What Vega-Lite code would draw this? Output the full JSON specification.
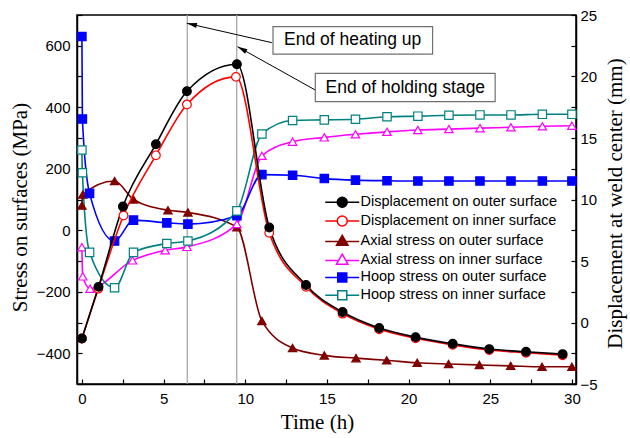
{
  "$schema": "https://vega.github.io/schema/vega-lite/v6.json",
  "width": 499,
  "height": 369,
  "autosize": {"type": "none"},
  "padding": {"left": 77, "top": 15, "right": 54, "bottom": 54},
  "background": "white",
  "config": {
    "view": {"stroke": "black", "strokeWidth": 1.5},
    "axis": {
      "grid": false,
      "domainColor": "black",
      "domainWidth": 1.5,
      "tickColor": "black",
      "tickWidth": 1.2,
      "tickSize": -5,
      "labelFont": "Liberation Sans",
      "labelFontSize": 15,
      "labelColor": "black",
      "labelOverlap": false,
      "titleFont": "Liberation Serif",
      "titleFontSize": 21,
      "titleFontWeight": "normal",
      "titleColor": "black"
    }
  },
  "datasets": {
    "disp": [
      {"series": "Displacement on inner surface", "t": 0, "d": -1.3},
      {"series": "Displacement on inner surface", "t": 1.0, "d": 2.75},
      {"series": "Displacement on inner surface", "t": 2.55, "d": 8.7},
      {"series": "Displacement on inner surface", "t": 4.53, "d": 13.59},
      {"series": "Displacement on inner surface", "t": 6.43, "d": 17.72},
      {"series": "Displacement on inner surface", "t": 9.43, "d": 19.97},
      {"series": "Displacement on inner surface", "t": 11.47, "d": 7.29},
      {"series": "Displacement on inner surface", "t": 13.72, "d": 2.9},
      {"series": "Displacement on inner surface", "t": 15.96, "d": 0.72},
      {"series": "Displacement on inner surface", "t": 18.2, "d": -0.55},
      {"series": "Displacement on inner surface", "t": 20.43, "d": -1.28},
      {"series": "Displacement on inner surface", "t": 22.7, "d": -1.82},
      {"series": "Displacement on inner surface", "t": 24.94, "d": -2.24},
      {"series": "Displacement on inner surface", "t": 27.19, "d": -2.46},
      {"series": "Displacement on inner surface", "t": 29.43, "d": -2.66},
      {"series": "Displacement on outer surface", "t": 0, "d": -1.3},
      {"series": "Displacement on outer surface", "t": 1.02, "d": 2.9},
      {"series": "Displacement on outer surface", "t": 2.51, "d": 9.43},
      {"series": "Displacement on outer surface", "t": 4.53, "d": 14.49},
      {"series": "Displacement on outer surface", "t": 6.43, "d": 18.8},
      {"series": "Displacement on outer surface", "t": 9.49, "d": 21.0},
      {"series": "Displacement on outer surface", "t": 11.47, "d": 7.72},
      {"series": "Displacement on outer surface", "t": 13.72, "d": 3.05},
      {"series": "Displacement on outer surface", "t": 15.96, "d": 0.85},
      {"series": "Displacement on outer surface", "t": 18.2, "d": -0.45},
      {"series": "Displacement on outer surface", "t": 20.43, "d": -1.19},
      {"series": "Displacement on outer surface", "t": 22.7, "d": -1.73},
      {"series": "Displacement on outer surface", "t": 24.94, "d": -2.16},
      {"series": "Displacement on outer surface", "t": 27.19, "d": -2.38},
      {"series": "Displacement on outer surface", "t": 29.43, "d": -2.57}
    ],
    "stress": [
      {"series": "Axial stress on outer surface", "t": 0, "v": 80},
      {"series": "Axial stress on outer surface", "t": 0.05, "v": 116},
      {"series": "Axial stress on outer surface", "t": 2.0, "v": 160},
      {"series": "Axial stress on outer surface", "t": 3.16, "v": 100},
      {"series": "Axial stress on outer surface", "t": 5.27, "v": 65},
      {"series": "Axial stress on outer surface", "t": 6.49, "v": 58},
      {"series": "Axial stress on outer surface", "t": 9.49, "v": 10},
      {"series": "Axial stress on outer surface", "t": 11.02, "v": -295},
      {"series": "Axial stress on outer surface", "t": 12.9, "v": -383},
      {"series": "Axial stress on outer surface", "t": 14.84, "v": -407},
      {"series": "Axial stress on outer surface", "t": 16.78, "v": -416},
      {"series": "Axial stress on outer surface", "t": 18.66, "v": -423},
      {"series": "Axial stress on outer surface", "t": 20.53, "v": -431},
      {"series": "Axial stress on outer surface", "t": 22.45, "v": -435},
      {"series": "Axial stress on outer surface", "t": 24.33, "v": -438},
      {"series": "Axial stress on outer surface", "t": 26.25, "v": -441},
      {"series": "Axial stress on outer surface", "t": 28.17, "v": -444},
      {"series": "Axial stress on outer surface", "t": 30.0, "v": -444},
      {"series": "Axial stress on inner surface", "t": 0, "v": -55},
      {"series": "Axial stress on inner surface", "t": 0.05, "v": -150},
      {"series": "Axial stress on inner surface", "t": 0.5, "v": -190},
      {"series": "Axial stress on inner surface", "t": 3.1, "v": -98},
      {"series": "Axial stress on inner surface", "t": 5.1, "v": -65},
      {"series": "Axial stress on inner surface", "t": 6.43, "v": -54},
      {"series": "Axial stress on inner surface", "t": 9.49, "v": 20},
      {"series": "Axial stress on inner surface", "t": 11.02, "v": 242},
      {"series": "Axial stress on inner surface", "t": 12.9, "v": 288},
      {"series": "Axial stress on inner surface", "t": 14.84, "v": 302},
      {"series": "Axial stress on inner surface", "t": 16.75, "v": 312},
      {"series": "Axial stress on inner surface", "t": 18.68, "v": 320},
      {"series": "Axial stress on inner surface", "t": 20.57, "v": 326},
      {"series": "Axial stress on inner surface", "t": 22.47, "v": 329},
      {"series": "Axial stress on inner surface", "t": 24.37, "v": 332},
      {"series": "Axial stress on inner surface", "t": 26.27, "v": 335},
      {"series": "Axial stress on inner surface", "t": 28.19, "v": 338},
      {"series": "Axial stress on inner surface", "t": 30.0, "v": 340},
      {"series": "Hoop stress on outer surface", "t": 0, "v": 630},
      {"series": "Hoop stress on outer surface", "t": 0.03, "v": 362},
      {"series": "Hoop stress on outer surface", "t": 0.47, "v": 120},
      {"series": "Hoop stress on outer surface", "t": 2.0, "v": -35},
      {"series": "Hoop stress on outer surface", "t": 3.16, "v": 33},
      {"series": "Hoop stress on outer surface", "t": 5.2, "v": 24},
      {"series": "Hoop stress on outer surface", "t": 6.49, "v": 20},
      {"series": "Hoop stress on outer surface", "t": 9.49, "v": 47},
      {"series": "Hoop stress on outer surface", "t": 11.02, "v": 181},
      {"series": "Hoop stress on outer surface", "t": 12.9, "v": 179},
      {"series": "Hoop stress on outer surface", "t": 14.84, "v": 168},
      {"series": "Hoop stress on outer surface", "t": 16.75, "v": 163},
      {"series": "Hoop stress on outer surface", "t": 18.68, "v": 161},
      {"series": "Hoop stress on outer surface", "t": 20.57, "v": 160},
      {"series": "Hoop stress on outer surface", "t": 22.47, "v": 160},
      {"series": "Hoop stress on outer surface", "t": 24.37, "v": 160},
      {"series": "Hoop stress on outer surface", "t": 26.27, "v": 160},
      {"series": "Hoop stress on outer surface", "t": 28.19, "v": 160},
      {"series": "Hoop stress on outer surface", "t": 30.0, "v": 160},
      {"series": "Hoop stress on inner surface", "t": 0, "v": 261},
      {"series": "Hoop stress on inner surface", "t": 0.03, "v": 187},
      {"series": "Hoop stress on inner surface", "t": 0.47, "v": -72},
      {"series": "Hoop stress on inner surface", "t": 2.0, "v": -187},
      {"series": "Hoop stress on inner surface", "t": 3.16, "v": -72},
      {"series": "Hoop stress on inner surface", "t": 5.2, "v": -43},
      {"series": "Hoop stress on inner surface", "t": 6.49, "v": -35},
      {"series": "Hoop stress on inner surface", "t": 9.49, "v": 63},
      {"series": "Hoop stress on inner surface", "t": 11.02, "v": 313},
      {"series": "Hoop stress on inner surface", "t": 12.9, "v": 357},
      {"series": "Hoop stress on inner surface", "t": 14.84, "v": 359},
      {"series": "Hoop stress on inner surface", "t": 16.75, "v": 361},
      {"series": "Hoop stress on inner surface", "t": 18.68, "v": 369},
      {"series": "Hoop stress on inner surface", "t": 20.57, "v": 371},
      {"series": "Hoop stress on inner surface", "t": 22.47, "v": 374},
      {"series": "Hoop stress on inner surface", "t": 24.37, "v": 375},
      {"series": "Hoop stress on inner surface", "t": 26.27, "v": 375},
      {"series": "Hoop stress on inner surface", "t": 28.19, "v": 377},
      {"series": "Hoop stress on inner surface", "t": 30.0, "v": 377}
    ],
    "events": [
      {"event": "End of heating up", "t": 6.45},
      {"event": "End of holding stage", "t": 9.48}
    ],
    "notes": [
      {"event": "End of heating up", "label_t": 16.58, "label_v": 618, "box_t1": 11.7, "box_t2": 21.47, "box_v1": 662, "box_v2": 573, "tail_t": 11.63, "tail_v": 610, "head_t": 6.43, "head_v": 673},
      {"event": "End of holding stage", "label_t": 19.8, "label_v": 464, "box_t1": 14.29, "box_t2": 25.3, "box_v1": 510, "box_v2": 418, "tail_t": 14.29, "tail_v": 456, "head_t": 9.53, "head_v": 597}
    ]
  },
  "resolve": {"scale": {"y": "independent", "stroke": "independent", "fill": "independent", "shape": "independent"}},
  "layer": [
    {
      "layer": [
        {
          "data": {"name": "events"},
          "mark": {"type": "rule", "color": "#A0A0A0", "strokeWidth": 1.2},
          "encoding": {
            "x": {"field": "t", "type": "quantitative", "scale": {"domain": [-0.3, 30.25], "nice": false, "zero": false},
              "axis": {"title": "Time (h)", "values": [0, 2.5, 5, 7.5, 10, 12.5, 15, 17.5, 20, 22.5, 25, 27.5, 30], "labelExpr": "datum.value % 5 === 0 ? datum.label : ''", "labelPadding": 12, "titleX": 240, "titleY": 38, "titleBaseline": "middle", "titleAlign": "center"}}
          }
        },
        {
          "data": {"name": "stress"},
          "mark": {"type": "line", "interpolate": "monotone", "strokeWidth": 1.6},
          "encoding": {
            "x": {"field": "t", "type": "quantitative", "scale": {"domain": [-0.3, 30.25], "nice": false, "zero": false},
              "axis": {"title": "Time (h)", "values": [0, 2.5, 5, 7.5, 10, 12.5, 15, 17.5, 20, 22.5, 25, 27.5, 30], "labelExpr": "datum.value % 5 === 0 ? datum.label : ''", "labelPadding": 12, "titleX": 240, "titleY": 38, "titleBaseline": "middle", "titleAlign": "center"}},
            "y": {"field": "v", "type": "quantitative", "scale": {"domain": [-500, 700], "nice": false, "zero": false},
              "axis": {"orient": "left", "title": "Stress on surfaces (MPa)", "values": [-500, -400, -300, -200, -100, 0, 100, 200, 300, 400, 500, 600, 700], "labelExpr": "datum.value % 200 === 0 ? datum.label : ''", "labelPadding": 12, "titleX": -57, "titleY": 192, "titleAngle": 270, "titleBaseline": "middle", "titleAlign": "center"}},
            "stroke": {"field": "series", "type": "nominal", "legend": null,
              "scale": {"domain": ["Axial stress on outer surface", "Axial stress on inner surface", "Hoop stress on outer surface", "Hoop stress on inner surface"],
                "range": ["#800000", "#FF00FF", "#0000FF", "#008080"]}}
          }
        },
        {
          "data": {"name": "stress"},
          "mark": {"type": "point", "size": 70, "strokeWidth": 1.2, "opacity": 1},
          "encoding": {
            "x": {"field": "t", "type": "quantitative", "scale": {"domain": [-0.3, 30.25], "nice": false, "zero": false},
              "axis": {"title": "Time (h)", "values": [0, 2.5, 5, 7.5, 10, 12.5, 15, 17.5, 20, 22.5, 25, 27.5, 30], "labelExpr": "datum.value % 5 === 0 ? datum.label : ''", "labelPadding": 12, "titleX": 240, "titleY": 38, "titleBaseline": "middle", "titleAlign": "center"}},
            "y": {"field": "v", "type": "quantitative", "scale": {"domain": [-500, 700], "nice": false, "zero": false},
              "axis": {"orient": "left", "title": "Stress on surfaces (MPa)", "values": [-500, -400, -300, -200, -100, 0, 100, 200, 300, 400, 500, 600, 700], "labelExpr": "datum.value % 200 === 0 ? datum.label : ''", "labelPadding": 12, "titleX": -57, "titleY": 192, "titleAngle": 270, "titleBaseline": "middle", "titleAlign": "center"}},
            "stroke": {"field": "series", "type": "nominal", "legend": null,
              "scale": {"domain": ["Axial stress on outer surface", "Axial stress on inner surface", "Hoop stress on outer surface", "Hoop stress on inner surface"],
                "range": ["#800000", "#FF00FF", "#0000FF", "#008080"]}},
            "fill": {"field": "series", "type": "nominal", "legend": null,
              "scale": {"domain": ["Axial stress on outer surface", "Axial stress on inner surface", "Hoop stress on outer surface", "Hoop stress on inner surface"],
                "range": ["#800000", "#FFFFFF", "#0000FF", "#FFFFFF"]}},
            "shape": {"field": "series", "type": "nominal", "legend": null,
              "scale": {"domain": ["Axial stress on outer surface", "Axial stress on inner surface", "Hoop stress on outer surface", "Hoop stress on inner surface"],
                "range": ["triangle-up", "triangle-up", "square", "square"]}}
          }
        },
        {
          "data": {"name": "notes"},
          "mark": {"type": "rule", "color": "black", "strokeWidth": 1},
          "encoding": {
            "x": {"field": "tail_t", "type": "quantitative", "scale": {"domain": [-0.3, 30.25], "nice": false, "zero": false},
              "axis": {"title": "Time (h)", "values": [0, 2.5, 5, 7.5, 10, 12.5, 15, 17.5, 20, 22.5, 25, 27.5, 30], "labelExpr": "datum.value % 5 === 0 ? datum.label : ''", "labelPadding": 12, "titleX": 240, "titleY": 38, "titleBaseline": "middle", "titleAlign": "center"}},
            "y": {"field": "tail_v", "type": "quantitative", "scale": {"domain": [-500, 700], "nice": false, "zero": false},
              "axis": {"orient": "left", "title": "Stress on surfaces (MPa)", "values": [-500, -400, -300, -200, -100, 0, 100, 200, 300, 400, 500, 600, 700], "labelExpr": "datum.value % 200 === 0 ? datum.label : ''", "labelPadding": 12, "titleX": -57, "titleY": 192, "titleAngle": 270, "titleBaseline": "middle", "titleAlign": "center"}},
            "x2": {"field": "head_t"},
            "y2": {"field": "head_v"}
          }
        },
        {
          "data": {"name": "notes"},
          "transform": [{"filter": "datum.event === 'End of heating up'"}],
          "mark": {"type": "point", "shape": "M0,0L-1,4L1,4Z", "size": 25, "filled": true, "color": "black", "opacity": 1, "angle": 283},
          "encoding": {
            "x": {"field": "head_t", "type": "quantitative", "scale": {"domain": [-0.3, 30.25], "nice": false, "zero": false},
              "axis": {"title": "Time (h)", "values": [0, 2.5, 5, 7.5, 10, 12.5, 15, 17.5, 20, 22.5, 25, 27.5, 30], "labelExpr": "datum.value % 5 === 0 ? datum.label : ''", "labelPadding": 12, "titleX": 240, "titleY": 38, "titleBaseline": "middle", "titleAlign": "center"}},
            "y": {"field": "head_v", "type": "quantitative", "scale": {"domain": [-500, 700], "nice": false, "zero": false},
              "axis": {"orient": "left", "title": "Stress on surfaces (MPa)", "values": [-500, -400, -300, -200, -100, 0, 100, 200, 300, 400, 500, 600, 700], "labelExpr": "datum.value % 200 === 0 ? datum.label : ''", "labelPadding": 12, "titleX": -57, "titleY": 192, "titleAngle": 270, "titleBaseline": "middle", "titleAlign": "center"}}
          }
        },
        {
          "data": {"name": "notes"},
          "transform": [{"filter": "datum.event === 'End of holding stage'"}],
          "mark": {"type": "point", "shape": "M0,0L-1,4L1,4Z", "size": 25, "filled": true, "color": "black", "opacity": 1, "angle": 299},
          "encoding": {
            "x": {"field": "head_t", "type": "quantitative", "scale": {"domain": [-0.3, 30.25], "nice": false, "zero": false},
              "axis": {"title": "Time (h)", "values": [0, 2.5, 5, 7.5, 10, 12.5, 15, 17.5, 20, 22.5, 25, 27.5, 30], "labelExpr": "datum.value % 5 === 0 ? datum.label : ''", "labelPadding": 12, "titleX": 240, "titleY": 38, "titleBaseline": "middle", "titleAlign": "center"}},
            "y": {"field": "head_v", "type": "quantitative", "scale": {"domain": [-500, 700], "nice": false, "zero": false},
              "axis": {"orient": "left", "title": "Stress on surfaces (MPa)", "values": [-500, -400, -300, -200, -100, 0, 100, 200, 300, 400, 500, 600, 700], "labelExpr": "datum.value % 200 === 0 ? datum.label : ''", "labelPadding": 12, "titleX": -57, "titleY": 192, "titleAngle": 270, "titleBaseline": "middle", "titleAlign": "center"}}
          }
        },
        {
          "data": {"name": "notes"},
          "mark": {"type": "rect", "fill": "white", "stroke": "#707070", "strokeWidth": 1.2},
          "encoding": {
            "x": {"field": "box_t1", "type": "quantitative", "scale": {"domain": [-0.3, 30.25], "nice": false, "zero": false},
              "axis": {"title": "Time (h)", "values": [0, 2.5, 5, 7.5, 10, 12.5, 15, 17.5, 20, 22.5, 25, 27.5, 30], "labelExpr": "datum.value % 5 === 0 ? datum.label : ''", "labelPadding": 12, "titleX": 240, "titleY": 38, "titleBaseline": "middle", "titleAlign": "center"}},
            "x2": {"field": "box_t2"},
            "y": {"field": "box_v1", "type": "quantitative", "scale": {"domain": [-500, 700], "nice": false, "zero": false},
              "axis": {"orient": "left", "title": "Stress on surfaces (MPa)", "values": [-500, -400, -300, -200, -100, 0, 100, 200, 300, 400, 500, 600, 700], "labelExpr": "datum.value % 200 === 0 ? datum.label : ''", "labelPadding": 12, "titleX": -57, "titleY": 192, "titleAngle": 270, "titleBaseline": "middle", "titleAlign": "center"}},
            "y2": {"field": "box_v2"}
          }
        },
        {
          "data": {"name": "notes"},
          "mark": {"type": "text", "font": "Liberation Sans", "fontSize": 17.5, "color": "black", "align": "center", "baseline": "middle"},
          "encoding": {
            "x": {"field": "label_t", "type": "quantitative", "scale": {"domain": [-0.3, 30.25], "nice": false, "zero": false},
              "axis": {"title": "Time (h)", "values": [0, 2.5, 5, 7.5, 10, 12.5, 15, 17.5, 20, 22.5, 25, 27.5, 30], "labelExpr": "datum.value % 5 === 0 ? datum.label : ''", "labelPadding": 12, "titleX": 240, "titleY": 38, "titleBaseline": "middle", "titleAlign": "center"}},
            "y": {"field": "label_v", "type": "quantitative", "scale": {"domain": [-500, 700], "nice": false, "zero": false},
              "axis": {"orient": "left", "title": "Stress on surfaces (MPa)", "values": [-500, -400, -300, -200, -100, 0, 100, 200, 300, 400, 500, 600, 700], "labelExpr": "datum.value % 200 === 0 ? datum.label : ''", "labelPadding": 12, "titleX": -57, "titleY": 192, "titleAngle": 270, "titleBaseline": "middle", "titleAlign": "center"}},
            "text": {"field": "event"}
          }
        }
      ]
    },
    {
      "data": {"name": "disp"},
      "layer": [
        {
          "mark": {"type": "line", "interpolate": "monotone", "strokeWidth": 1.6},
          "encoding": {
            "x": {"field": "t", "type": "quantitative", "scale": {"domain": [-0.3, 30.25], "nice": false, "zero": false},
              "axis": {"title": "Time (h)", "values": [0, 2.5, 5, 7.5, 10, 12.5, 15, 17.5, 20, 22.5, 25, 27.5, 30], "labelExpr": "datum.value % 5 === 0 ? datum.label : ''", "labelPadding": 12, "titleX": 240, "titleY": 38, "titleBaseline": "middle", "titleAlign": "center"}},
            "y": {"field": "d", "type": "quantitative", "scale": {"domain": [-5, 25], "nice": false, "zero": false},
              "axis": {"orient": "right", "title": "Displacement at weld center (mm)", "values": [-5, -2.5, 0, 2.5, 5, 7.5, 10, 12.5, 15, 17.5, 20, 22.5, 25], "labelExpr": "datum.value % 5 === 0 ? datum.label : ''", "labelPadding": 9, "titleX": 39, "titleY": 188, "titleAngle": 270, "titleBaseline": "middle", "titleAlign": "center"}},
            "stroke": {"field": "series", "type": "nominal", "legend": null,
              "scale": {"domain": ["Displacement on outer surface", "Displacement on inner surface"],
                "range": ["#000000", "#FF0000"]}},
            "order": {"field": "series", "sort": "descending"}
          }
        },
        {
          "mark": {"type": "point", "size": 75, "strokeWidth": 1.2, "opacity": 1},
          "encoding": {
            "x": {"field": "t", "type": "quantitative", "scale": {"domain": [-0.3, 30.25], "nice": false, "zero": false},
              "axis": {"title": "Time (h)", "values": [0, 2.5, 5, 7.5, 10, 12.5, 15, 17.5, 20, 22.5, 25, 27.5, 30], "labelExpr": "datum.value % 5 === 0 ? datum.label : ''", "labelPadding": 12, "titleX": 240, "titleY": 38, "titleBaseline": "middle", "titleAlign": "center"}},
            "y": {"field": "d", "type": "quantitative", "scale": {"domain": [-5, 25], "nice": false, "zero": false},
              "axis": {"orient": "right", "title": "Displacement at weld center (mm)", "values": [-5, -2.5, 0, 2.5, 5, 7.5, 10, 12.5, 15, 17.5, 20, 22.5, 25], "labelExpr": "datum.value % 5 === 0 ? datum.label : ''", "labelPadding": 9, "titleX": 39, "titleY": 188, "titleAngle": 270, "titleBaseline": "middle", "titleAlign": "center"}},
            "stroke": {"field": "series", "type": "nominal", "legend": null,
              "scale": {"domain": ["Displacement on outer surface", "Displacement on inner surface"],
                "range": ["#000000", "#FF0000"]}},
            "fill": {"field": "series", "type": "nominal", "legend": null,
              "scale": {"domain": ["Displacement on outer surface", "Displacement on inner surface"],
                "range": ["#000000", "#FFFFFF"]}},
            "shape": {"field": "series", "type": "nominal", "legend": null,
              "scale": {"domain": ["Displacement on outer surface", "Displacement on inner surface"],
                "range": ["circle", "circle"]}}
          }
        }
      ]
    },
    {
      "data": {"values": []},
      "mark": {"type": "point", "filled": true, "opacity": 1},
      "encoding": {
        "stroke": {"field": "series", "type": "nominal",
          "scale": {"domain": ["Displacement on outer surface", "Displacement on inner surface", "Axial stress on outer surface", "Axial stress on inner surface", "Hoop stress on outer surface", "Hoop stress on inner surface"],
            "range": ["#000000", "#FF0000", "#800000", "#FF00FF", "#0000FF", "#008080"]},
          "legend": {"title": null, "orient": "none", "legendX": 258, "legendY": 180, "padding": 0, "direction": "vertical", "labelFont": "Liberation Sans", "labelFontSize": 14.5, "labelColor": "black", "labelLimit": 400, "labelOffset": 11, "rowPadding": 1.8, "symbolSize": 100, "symbolStrokeWidth": 1.5, "symbolOpacity": 1}},
        "fill": {"field": "series", "type": "nominal",
          "scale": {"domain": ["Displacement on outer surface", "Displacement on inner surface", "Axial stress on outer surface", "Axial stress on inner surface", "Hoop stress on outer surface", "Hoop stress on inner surface"],
            "range": ["#000000", "#FFFFFF", "#800000", "#FFFFFF", "#0000FF", "#FFFFFF"]},
          "legend": {"title": null, "orient": "none", "legendX": 258, "legendY": 180, "padding": 0, "direction": "vertical", "labelFont": "Liberation Sans", "labelFontSize": 14.5, "labelColor": "black", "labelLimit": 400, "labelOffset": 11, "rowPadding": 1.8, "symbolSize": 100, "symbolStrokeWidth": 1.5, "symbolOpacity": 1}},
        "shape": {"field": "series", "type": "nominal",
          "scale": {"domain": ["Displacement on outer surface", "Displacement on inner surface", "Axial stress on outer surface", "Axial stress on inner surface", "Hoop stress on outer surface", "Hoop stress on inner surface"],
            "range": ["M-3.4,0L-1,0M1,0L3.4,0M1,0A1,1,0,1,1,-1,0A1,1,0,1,1,1,0Z", "M-3.4,0L-1,0M1,0L3.4,0M1,0A1,1,0,1,1,-1,0A1,1,0,1,1,1,0Z", "M-3.4,0.15L-0.62,0.15M0.62,0.15L3.4,0.15M0,-1.1L1.15,0.9L-1.15,0.9Z", "M-3.4,0.15L-0.62,0.15M0.62,0.15L3.4,0.15M0,-1.1L1.15,0.9L-1.15,0.9Z", "M-3.4,0L-0.9,0M0.9,0L3.4,0M-0.9,-0.9L0.9,-0.9L0.9,0.9L-0.9,0.9Z", "M-3.4,0L-0.9,0M0.9,0L3.4,0M-0.9,-0.9L0.9,-0.9L0.9,0.9L-0.9,0.9Z"]},
          "legend": {"title": null, "orient": "none", "legendX": 258, "legendY": 180, "padding": 0, "direction": "vertical", "labelFont": "Liberation Sans", "labelFontSize": 14.5, "labelColor": "black", "labelLimit": 400, "labelOffset": 11, "rowPadding": 1.8, "symbolSize": 100, "symbolStrokeWidth": 1.5, "symbolOpacity": 1}}
      }
    }
  ]
}
